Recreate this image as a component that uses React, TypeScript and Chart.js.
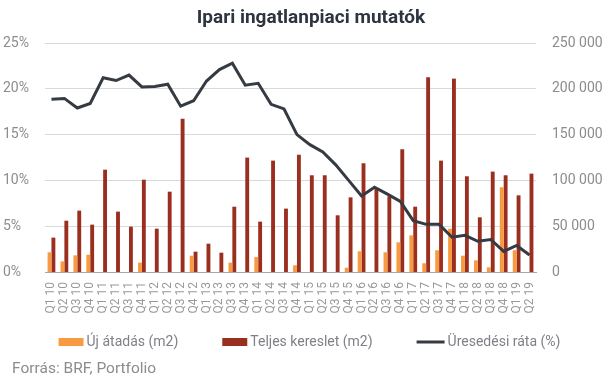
import React, { useEffect, useRef } from "react";
import { Chart, registerables } from "chart.js";

Chart.register(...registerables);

const categories = [
  "Q1 10","Q2 10","Q3 10","Q4 10",
  "Q1 11","Q2 11","Q3 11","Q4 11",
  "Q1 12","Q2 12","Q3 12","Q4 12",
  "Q1 13","Q2 13","Q3 13","Q4 13",
  "Q1 14","Q2 14","Q3 14","Q4 14",
  "Q1 15","Q2 15","Q3 15","Q4 15",
  "Q1 16","Q2 16","Q3 16","Q4 16",
  "Q1 17","Q2 17","Q3 17","Q4 17",
  "Q1 18","Q2 18","Q3 18","Q4 18",
  "Q1 19","Q2 19",
];

const ujAtadas = [
  21500, 11600, 18200, 18900,
  0, 0, 0, 10200,
  0, 0, 0, 17800,
  0, 0, 10200, 0,
  16400, 0, 0, 7300,
  0, 0, 0, 4700,
  22600, 0, 21500, 32400,
  40000, 9500, 23700, 47300,
  17800, 12700, 5100, 92500,
  23700, 0,
];

const teljesKereslet = [
  37500, 56000, 67000, 51700,
  111700, 65900, 49500, 100800,
  47300, 87700, 167400, 22200,
  30900, 21100, 71300, 124900,
  55000, 121600, 69200, 128000,
  105600, 105600, 61900, 81500,
  118700, 91000, 82600, 134000,
  71300, 212600, 121600, 211100,
  104500, 59700, 109600, 105600,
  83700, 107400,
];

const uresedesiRata = [
  18.85, 18.95, 17.9, 18.4,
  21.2, 20.9, 21.5, 20.2,
  20.25, 20.5, 18.1, 18.7,
  20.85, 22.1, 22.8, 20.4,
  20.6, 18.3, 17.8, 15.0,
  13.9, 13.1, 11.7, 10.0,
  8.3, 9.25, 8.5, 7.7,
  5.6, 5.2, 5.2, 3.8,
  4.0, 3.35, 3.55, 2.25,
  2.9, 1.85,
];

const leftTicks = [0, 5, 10, 15, 20, 25];
const rightTicks = [0, 50000, 100000, 150000, 200000, 250000];

const titleText = "Ipari ingatlanpiaci mutatók";
const sourceText = "Forrás: BRF, Portfolio";
const seriesNames = ["Új átadás (m2)", "Teljes kereslet (m2)", "Üresedési ráta (%)"];

const FONT = "Roboto";
const GRAY = "#8c8c8c";
const XGRAY = "#9a9a9a";
const LEGEND_GRAY = "#7f8088";

const textPlugin = {
  id: "extraText",
  afterDraw(chart: any) {
    const ctx = chart.ctx;
    ctx.save();
    ctx.textBaseline = "middle";
    // title
    ctx.font = `bold 19px ${FONT}`;
    ctx.fillStyle = "#2e3440";
    ctx.textAlign = "center";
    ctx.fillText(titleText, 311, 18);
    // legend
    ctx.font = `14px ${FONT}`;
    const gapText = 3;
    const gapItem = 44;
    const ds = chart.data.datasets;
    const boxWs = ds.map((d: any) => (d.type === "line" ? 28 : 25));
    const widths = ds.map((d: any, i: number) => boxWs[i] + gapText + ctx.measureText(d.label).width);
    const total = widths.reduce((a: number, b: number) => a + b, 0) + gapItem * (ds.length - 1);
    let x = 309.5 - total / 2;
    const ly = 342;
    ds.forEach((d: any, i: number) => {
      const bw = boxWs[i];
      if (d.type === "line") {
        ctx.strokeStyle = d.borderColor;
        ctx.lineWidth = 3;
        ctx.beginPath();
        ctx.moveTo(x, ly);
        ctx.lineTo(x + bw, ly);
        ctx.stroke();
      } else {
        ctx.fillStyle = d.backgroundColor;
        ctx.fillRect(x, ly - 4, bw, 8);
      }
      ctx.fillStyle = LEGEND_GRAY;
      ctx.textAlign = "left";
      ctx.fillText(d.label, x + bw + gapText, ly);
      x += widths[i] + gapItem;
    });
    // source
    ctx.font = `15.5px ${FONT}`;
    ctx.fillStyle = GRAY;
    ctx.textAlign = "left";
    ctx.fillText(sourceText, 12, 369);
    ctx.restore();
  },
};

function fmtThousands(v: number) {
  return String(Math.round(v)).replace(/\B(?=(\d{3})+(?!\d))/g, " ");
}

export default function App() {
  const ref = useRef<HTMLCanvasElement | null>(null);
  useEffect(() => {
    document.body.style.margin = "0";
    const canvas = ref.current;
    if (!canvas) return;
    const chart = new Chart(canvas, {
      type: "bar",
      data: {
        labels: categories,
        datasets: [
          {
            type: "bar",
            label: seriesNames[0],
            data: ujAtadas,
            backgroundColor: "#f79a42",
            borderWidth: 0,
            yAxisID: "y1",
            order: 1,
            barPercentage: 1,
            categoryPercentage: 0.6,
          },
          {
            type: "bar",
            label: seriesNames[1],
            data: teljesKereslet,
            backgroundColor: "#9a2f20",
            borderWidth: 0,
            yAxisID: "y1",
            order: 1,
            barPercentage: 1,
            categoryPercentage: 0.6,
          },
          {
            type: "line",
            label: seriesNames[2],
            data: uresedesiRata,
            borderColor: "#363b43",
            backgroundColor: "#363b43",
            borderWidth: 3,
            pointRadius: 0,
            tension: 0,
            yAxisID: "y",
            order: 0,
          } as any,
        ],
      },
      options: {
        animation: false,
        responsive: false,
        maintainAspectRatio: false,
        layout: { padding: { top: 43, left: 3, right: 0, bottom: 56 } },
        plugins: {
          title: { display: false },
          tooltip: { enabled: false },
          legend: { display: false },
        },
        scales: {
          x: {
            grid: { display: false, drawTicks: false },
            border: { display: true, color: "#a6a6a6", width: 1 },
            ticks: {
              autoSkip: false,
              maxRotation: 90,
              minRotation: 90,
              padding: 10,
              color: XGRAY,
              font: { family: FONT, size: 12 },
            },
            afterFit: (s: any) => {
              s.height = 50;
            },
          },
          y: {
            position: "left",
            min: 0,
            max: 25,
            afterBuildTicks: (s: any) => {
              s.ticks = leftTicks.map((v) => ({ value: v }));
            },
            grid: { color: "#d9d9d9", drawTicks: false, lineWidth: 1 },
            border: { display: false },
            ticks: {
              crossAlign: "far",
              color: GRAY,
              font: { family: FONT, size: 14 },
              callback: (v: any) => `${v}%`,
            },
            afterFit: (s: any) => {
              s.width = 42;
            },
          },
          y1: {
            position: "right",
            min: 0,
            max: 250000,
            afterBuildTicks: (s: any) => {
              s.ticks = rightTicks.map((v) => ({ value: v }));
            },
            grid: { display: false, drawTicks: false },
            border: { display: false },
            ticks: {
              padding: 16,
              color: GRAY,
              font: { family: FONT, size: 14 },
              callback: (v: any) => fmtThousands(Number(v)),
            },
            afterFit: (s: any) => {
              s.width = 70;
            },
          },
        },
      },
      plugins: [textPlugin],
    } as any);
    return () => chart.destroy();
  }, []);
  return (
    <div style={{ width: 606, height: 378 }}>
      <canvas ref={ref} width={606} height={378} style={{ display: "block", width: 606, height: 378 }} />
    </div>
  );
}
